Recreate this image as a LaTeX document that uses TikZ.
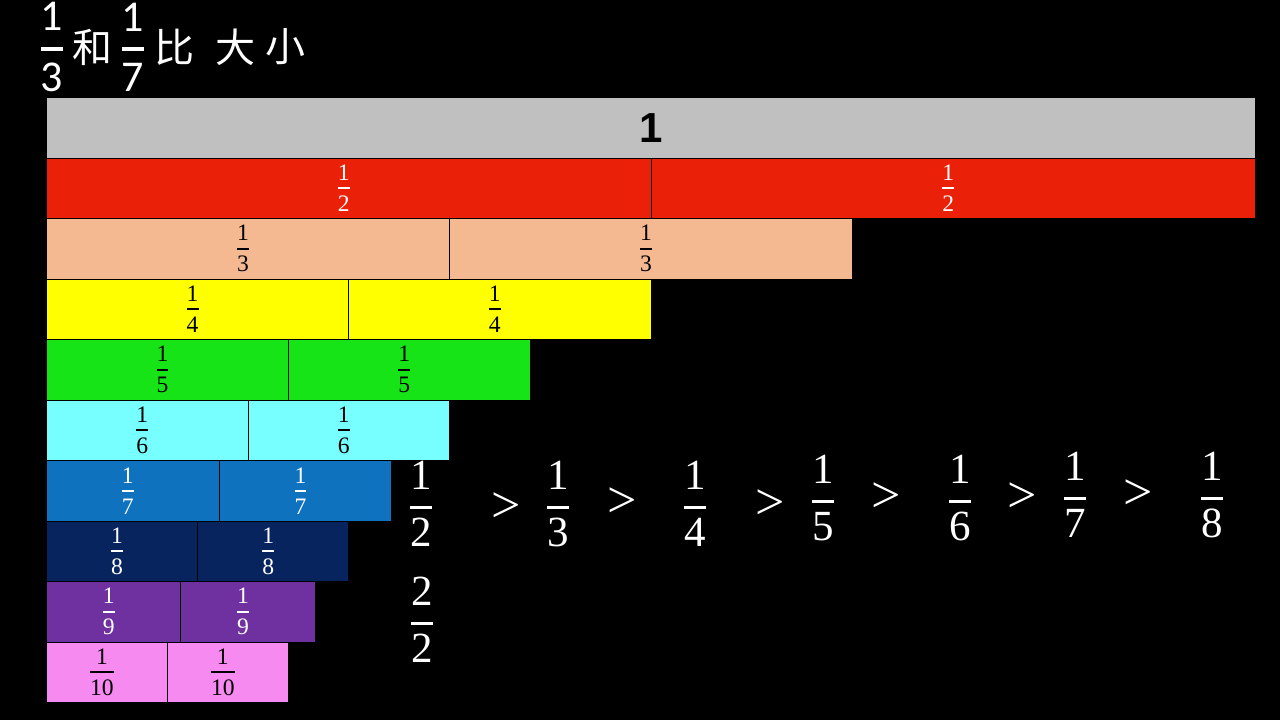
\documentclass[tikz,border=0pt]{standalone}
\usepackage{amsmath}
\usepackage{fontspec}
\newfontfamily\cjk{Noto Sans CJK SC}
\newfontfamily\carl{Carlito}
\newfontfamily\arial{Liberation Sans}
\newfontfamily\lser{Liberation Serif}
\definecolor{cgray}{HTML}{C0C0C0}
\definecolor{cred}{HTML}{EB2008}
\definecolor{cpeach}{HTML}{F4B991}
\definecolor{cyellow}{HTML}{FFFF00}
\definecolor{cgreen}{HTML}{16E416}
\definecolor{ccyan}{HTML}{77FFFF}
\definecolor{cblue}{HTML}{0F72BE}
\definecolor{cnavy}{HTML}{08245F}
\definecolor{cpurple}{HTML}{7031A0}
\definecolor{cpink}{HTML}{F78AF0}
\newcommand\sfr[2]{\hspace*{-5pt}$\genfrac{}{}{1pt}{0}{\raisebox{-1.2pt}{\lser #1}}{\raisebox{-0.4pt}{\lser #2}}$}
\newcommand\bfr[2]{$\genfrac{}{}{1.4pt}{0}{\mbox{\lser #1}}{\mbox{\lser #2}}$}
\newcommand\tfr[2]{$\genfrac{}{}{2pt}{0}{\mbox{\carl #1}}{\mbox{\carl #2}}$}
\tikzset{
  cell/.style={draw=black, line width=0.5pt, inner sep=0pt, anchor=north west,
    minimum height=30.25pt, font=\fontsize{11.8}{14}\selectfont},
  big/.style={text=white, inner sep=0pt, font=\fontsize{21.5}{26}\selectfont},
  gt/.style={text=white, inner sep=0pt, font=\lser\fontsize{26}{30}\selectfont},
  ttl/.style={text=white, inner sep=0pt, font=\cjk\fontsize{20}{24}\selectfont},
  tfrac/.style={text=white, inner sep=0pt, font=\fontsize{22}{26}\selectfont}
}
\begin{document}
\begin{tikzpicture}[x=0.5pt, y=-0.5pt]
\fill[black] (0,0) rectangle (1280,720);
\useasboundingbox (0,0) rectangle (1280,720);
% title
\node[tfrac] (t13) at (52,47) {\tfr{1}{3}};
\node[ttl] (the) at (92,47) {和};
\node[tfrac] (t17) at (133,47) {\tfr{1}{7}};
\node[ttl] (tbi) at (174,47) {比};
\node[ttl] (tda) at (235,47) {大};
\node[ttl] (txiao) at (285,47) {小};
% whole bar
\node[cell, fill=cgray, minimum width=604.5pt] (one) at (46,97) {};
\node[font=\arial\bfseries\fontsize{21}{24}\selectfont, text=black, inner sep=0pt] (onelab) at (one.center) {1};
% fraction rows
\foreach \n/\col/\txt [count=\i] in {2/cred/white, 3/cpeach/black, 4/cyellow/black,
  5/cgreen/black, 6/ccyan/black, 7/cblue/white, 8/cnavy/white, 9/cpurple/white, 10/cpink/black} {
  \pgfmathsetmacro\w{1209/\n}
  \foreach \k in {0,1} {
    \node[cell, fill=\col, text=\txt, minimum width=\w*0.5pt] (c\n-\k)
      at ({46+\k*\w}, {97+60.5*\i}) {\sfr{1}{\n}};
  }
}
% inequality chain
\node[big] (f2) at (421,504) {\bfr{1}{2}};
\node[gt] (g1) at (506,508) {>};
\node[big] (f3) at (558,504) {\bfr{1}{3}};
\node[gt] (g2) at (622,503) {>};
\node[big] (f4) at (695,504) {\bfr{1}{4}};
\node[gt] (g3) at (770,505) {>};
\node[big] (f5) at (823,498) {\bfr{1}{5}};
\node[gt] (g4) at (886,498) {>};
\node[big] (f6) at (960,498) {\bfr{1}{6}};
\node[gt] (g5) at (1022,498) {>};
\node[big] (f7) at (1075,495) {\bfr{1}{7}};
\node[gt] (g6) at (1138,495) {>};
\node[big] (f8) at (1212,495) {\bfr{1}{8}};
\node[big] (f22) at (422,620) {\bfr{2}{2}};
\end{tikzpicture}
\end{document}
